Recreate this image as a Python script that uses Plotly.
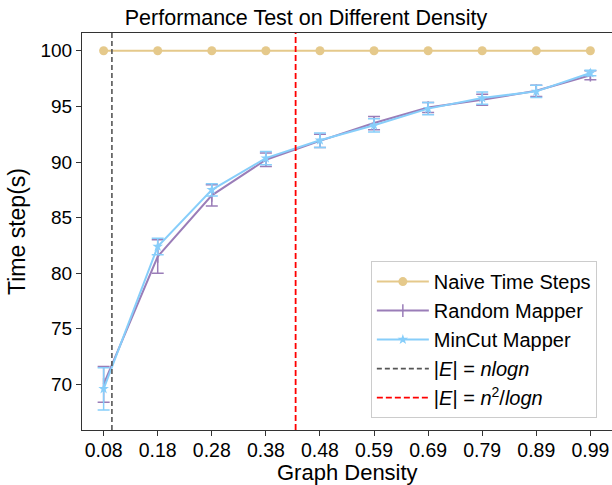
import plotly.graph_objects as go

densities = ["0.08", "0.18", "0.28", "0.38", "0.48", "0.59", "0.69", "0.79", "0.89", "0.99"]
naive = [100, 100, 100, 100, 100, 100, 100, 100, 100, 100]
random_mean = [70.0, 81.5, 87.0, 90.2, 91.9, 93.5, 94.9, 95.6, 96.4, 97.8]
random_err = [1.6, 1.5, 0.95, 0.6, 0.6, 0.6, 0.45, 0.5, 0.5, 0.4]
mincut_mean = [69.6, 82.4, 87.5, 90.35, 91.95, 93.3, 94.8, 95.75, 96.35, 98.0]
mincut_err = [1.9, 0.75, 0.55, 0.6, 0.65, 0.6, 0.55, 0.55, 0.55, 0.25]
# positions of the reference lines, in tick-index units
nlogn_pos = 0.153
n2logn_pos = 3.55

x = list(range(len(densities)))
y_range = [65.9, 101.6]

fig = go.Figure()
fig.add_trace(go.Scatter(
    x=x, y=naive, mode="lines+markers", name="Naive Time Steps",
    line=dict(color="#E5C98B", width=2),
    marker=dict(symbol="circle", size=9, color="#E5C98B")))
fig.add_trace(go.Scatter(
    x=x, y=random_mean, mode="lines+markers", name="Random Mapper",
    line=dict(color="#9A7DB8", width=2),
    marker=dict(symbol="line-ns", size=9, color="#9A7DB8",
                line=dict(color="#9A7DB8", width=1.5)),
    error_y=dict(type="data", array=random_err, color="#9A7DB8",
                 thickness=1.5, width=6)))
fig.add_trace(go.Scatter(
    x=x, y=mincut_mean, mode="lines+markers", name="MinCut Mapper",
    line=dict(color="#87CEFA", width=2),
    marker=dict(symbol="star", size=8, color="#87CEFA"),
    error_y=dict(type="data", array=mincut_err, color="#87CEFA",
                 thickness=1.5, width=6)))
fig.add_trace(go.Scatter(
    x=[nlogn_pos, nlogn_pos], y=y_range, mode="lines",
    name="|<i>E</i>| = <i>nlogn</i>",
    line=dict(color="#555555", width=1.6, dash="5px,3px")))
fig.add_trace(go.Scatter(
    x=[n2logn_pos, n2logn_pos], y=y_range, mode="lines",
    name="|<i>E</i>| = <i>n</i><sup>2</sup>/<i>logn</i>",
    line=dict(color="#FF0000", width=1.8, dash="6px,3px")))

font_family = "Liberation Sans, Arial, sans-serif"
fig.update_layout(
    width=612, height=485,
    margin=dict(l=82, r=0, t=33, b=55),
    paper_bgcolor="white", plot_bgcolor="white",
    font=dict(family=font_family, color="black", size=18),
    title=dict(text="Performance Test on Different Density",
               x=0.5, xanchor="center", y=0.963, yanchor="middle",
               font=dict(size=21.5)),
    showlegend=True,
    legend=dict(x=0.545, y=0.03, xanchor="left", yanchor="bottom",
                bgcolor="white", bordercolor="#CCCCCC", borderwidth=1,
                font=dict(size=20), itemwidth=52, tracegroupgap=2),
    annotations=[dict(text="Graph Density", xref="paper", yref="paper",
                      x=0.5, y=-0.106, xanchor="center", yanchor="middle",
                      showarrow=False, font=dict(size=22))],
)
fig.update_xaxes(
    range=[-0.4, 9.4], tickmode="array", tickvals=x, ticktext=densities,
    showgrid=False, zeroline=False, showline=True, linecolor="#333333",
    linewidth=1.2, mirror=True, ticks="outside", ticklen=5, tickcolor="#333333",
    tickfont=dict(size=19.5), ticklabelstandoff=-3)
fig.update_yaxes(
    range=y_range, tickmode="array", tickvals=[70, 75, 80, 85, 90, 95, 100],
    showgrid=False, zeroline=False, showline=True, linecolor="#333333",
    linewidth=1.2, mirror=True, ticks="outside", ticklen=5, tickcolor="#333333",
    tickfont=dict(size=19),
    title=dict(text="Time step(s)", font=dict(size=23), standoff=8))

fig.write_html("out.html")
